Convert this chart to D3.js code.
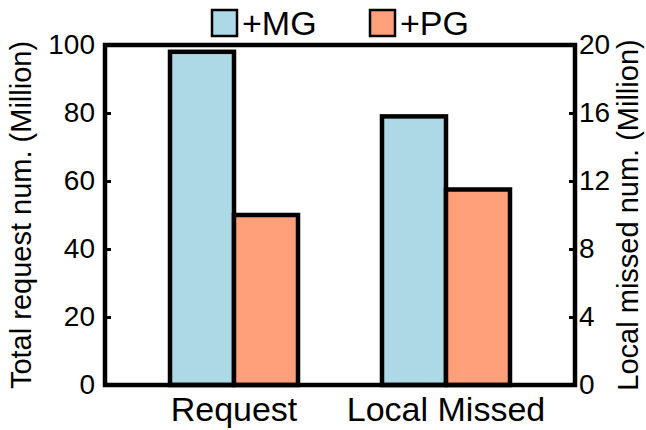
<!DOCTYPE html>
<html>
<head>
<meta charset="utf-8">
<script src="https://cdn.jsdelivr.net/npm/d3@7"></script>
<style>
  html, body { margin: 0; padding: 0; background: #fff; }
  svg { display: block; }
  text { font-family: "Liberation Sans", Arial, Helvetica, sans-serif; fill: #000; }
</style>
</head>
<body>
<script>
// Request counts (left axis, Million) and local-missed counts (right axis, Million)
const categories = ["Request", "Local Missed"];
const categoryAxis = ["left", "right"];
const series = ["+MG", "+PG"];
const mgValues = [98, 15.8];
const pgValues = [50, 11.5];
const seriesColors = ["#add8e6", "#ffa07a"];
const leftTicks = [0, 20, 40, 60, 80, 100];
const rightTicks = [0, 4, 8, 12, 16, 20];
const leftTitle = "Total request num. (Million)";
const rightTitle = "Local missed num. (Million)";

const W = 646, H = 430;
const plot = { left: 105, right: 575, top: 45, bottom: 385 };

const svg = d3.select("body").append("svg")
  .attr("width", W).attr("height", H);

const yLeft = d3.scaleLinear().domain([0, 100]).range([plot.bottom, plot.top]);
const yRight = d3.scaleLinear().domain([0, 20]).range([plot.bottom, plot.top]);

const x0 = d3.scaleBand().domain(categories)
  .range([plot.left, plot.right]).paddingInner(0).paddingOuter(0.1085);
const x1 = d3.scaleBand().domain(series).range([-64, 64]).padding(0);

const rows = categories.map((c, i) => ({
  category: c,
  axis: categoryAxis[i],
  values: [mgValues[i], pgValues[i]]
}));

// bars
const groups = svg.append("g").selectAll("g").data(rows).join("g")
  .attr("transform", d => `translate(${x0(d.category) + x0.bandwidth() / 2},0)`);

groups.selectAll("rect")
  .data(d => d.values.map((v, j) => ({ v, s: series[j], j, y: d.axis === "left" ? yLeft : yRight })))
  .join("rect")
  .attr("x", d => x1(d.s))
  .attr("width", x1.bandwidth())
  .attr("y", d => d.y(d.v))
  .attr("height", d => plot.bottom - d.y(d.v))
  .attr("fill", d => seriesColors[d.j])
  .attr("stroke", "#000")
  .attr("stroke-width", 4.5)
  .attr("stroke-linejoin", "miter");

// axes
const tickFont = 28;
const leftAxis = svg.append("g").attr("transform", `translate(${plot.left},0)`)
  .call(d3.axisLeft(yLeft).tickValues(leftTicks).tickSizeInner(-6).tickSizeOuter(0).tickPadding(10));
const rightAxis = svg.append("g").attr("transform", `translate(${plot.right},0)`)
  .call(d3.axisRight(yRight).tickValues(rightTicks).tickSizeInner(-6).tickSizeOuter(0).tickPadding(4));

[leftAxis, rightAxis].forEach(a => {
  a.select(".domain").remove();
  a.selectAll(".tick line").attr("stroke", "#000").attr("stroke-width", 3);
  a.selectAll(".tick text")
    .attr("font-family", "Liberation Sans, Arial, sans-serif")
    .attr("font-size", tickFont).attr("fill", "#000");
});

// frame
svg.append("rect")
  .attr("x", plot.left).attr("y", plot.top)
  .attr("width", plot.right - plot.left).attr("height", plot.bottom - plot.top)
  .attr("fill", "none").attr("stroke", "#000").attr("stroke-width", 4.5);

// category labels
svg.append("g").selectAll("text").data(categories).join("text")
  .attr("x", d => x0(d) + x0.bandwidth() / 2)
  .attr("y", 421)
  .attr("text-anchor", "middle")
  .attr("font-size", 34)
  .text(d => d);

// axis titles
svg.append("text")
  .attr("transform", `translate(31,${(plot.top + plot.bottom) / 2}) rotate(-90)`)
  .attr("text-anchor", "middle").attr("font-size", 29)
  .text(leftTitle);
svg.append("text")
  .attr("transform", `translate(638,${(plot.top + plot.bottom) / 2}) rotate(-90)`)
  .attr("text-anchor", "middle").attr("font-size", 29)
  .text(rightTitle);

// legend
const legendX = [211, 369];
const legend = svg.append("g").selectAll("g").data(series).join("g")
  .attr("transform", (d, i) => `translate(${legendX[i]},9)`);
legend.append("rect")
  .attr("x", 1).attr("y", 1).attr("width", 25).attr("height", 26)
  .attr("fill", (d, i) => seriesColors[i])
  .attr("stroke", "#000").attr("stroke-width", 2.5);
legend.append("text")
  .attr("x", 31).attr("y", 26)
  .attr("font-size", 34)
  .text(d => d);
</script>
</body>
</html>
